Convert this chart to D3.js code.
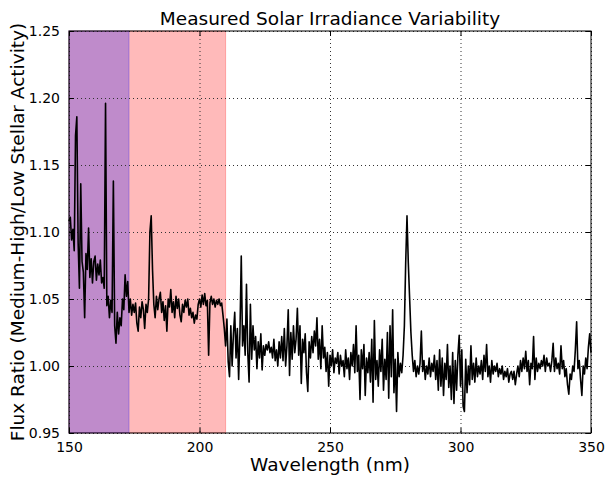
<!DOCTYPE html>
<html lang="en">
<head>
    <meta charset="UTF-8">
    <title>Measured Solar Irradiance Variability</title>
    <script src="https://d3js.org/d3.v7.min.js"></script>
    <style>
        body { margin: 0; background: white; }
        text { font-family: "DejaVu Sans", sans-serif; fill: black; }
    </style>
</head>
<body>
<svg id="chart" width="605" height="477"></svg>

<script>
    const wavelengthStart = 150;
    const wavelengthStep = 0.5;
    const fluxRatio = [
        1.108, 1.111, 1.094, 1.102, 1.086, 1.172, 1.186, 1.092, 1.058, 1.136,   // 150
        1.078, 1.070, 1.036, 1.084, 1.072, 1.103, 1.066, 1.080, 1.062, 1.078,   // 155
        1.082, 1.064, 1.076, 1.068, 1.079, 1.062, 1.066, 1.058, 1.196, 1.045,   // 160
        1.052, 1.036, 1.049, 1.040, 1.138, 1.030, 1.017, 1.040, 1.024, 1.036,   // 165
        1.030, 1.050, 1.042, 1.068, 1.052, 1.063, 1.040, 1.050, 1.038, 1.046,   // 170
        1.040, 1.047, 1.032, 1.026, 1.044, 1.036, 1.048, 1.042, 1.028, 1.046,   // 175
        1.040, 1.050, 1.100, 1.112, 1.072, 1.046, 1.036, 1.052, 1.042, 1.050,   // 180
        1.055, 1.040, 1.048, 1.034, 1.045, 1.026, 1.050, 1.044, 1.057, 1.040,   // 185
        1.048, 1.036, 1.052, 1.043, 1.050, 1.038, 1.033, 1.046, 1.040, 1.049,   // 190
        1.044, 1.050, 1.038, 1.043, 1.036, 1.040, 1.032, 1.038, 1.035, 1.046,   // 195
        1.050, 1.044, 1.053, 1.046, 1.054, 1.045, 1.049, 1.008, 1.047, 1.052,   // 200
        1.046, 1.050, 1.044, 1.049, 1.046, 1.050, 1.045, 1.047, 1.038, 1.028,   // 205
        1.015, 1.035, 1.003, 0.992, 1.030, 1.000, 1.024, 1.040, 1.006, 1.028,   // 210
        0.990, 1.025, 1.082, 1.015, 1.030, 1.008, 1.061, 1.010, 0.988, 1.046,   // 215
        1.005, 1.030, 1.012, 1.022, 0.998, 1.018, 1.006, 1.024, 0.997, 1.015,   // 220
        1.008, 1.016, 1.012, 1.018, 1.010, 1.014, 1.006, 1.020, 1.004, 1.012,   // 225
        1.000, 1.018, 1.006, 1.022, 1.004, 1.028, 1.000, 1.015, 1.042, 0.993,   // 230
        1.025, 1.005, 1.030, 1.010, 1.020, 1.043, 1.008, 1.030, 0.987, 1.020,   // 235
        1.010, 1.024, 0.995, 0.981, 1.018, 1.006, 1.022, 1.010, 1.026, 1.015,   // 240
        1.036, 1.005, 1.020, 0.998, 1.030, 1.006, 1.014, 0.996, 1.010, 0.985,   // 245
        1.008, 1.000, 1.012, 0.995, 1.006, 1.002, 1.010, 0.994, 1.008, 1.000,   // 250
        1.004, 0.992, 1.012, 0.998, 1.006, 0.990, 1.010, 1.000, 1.016, 0.995,   // 255
        1.030, 0.996, 1.008, 0.975, 1.012, 0.998, 1.016, 0.978, 1.006, 0.995,   // 260
        1.010, 0.988, 1.020, 0.973, 1.034, 0.990, 1.004, 0.985, 1.012, 0.996,   // 265
        1.020, 0.982, 1.005, 0.990, 1.025, 0.976, 1.030, 0.992, 1.042, 0.980,   // 270
        1.005, 0.966, 1.010, 0.992, 1.002, 0.995, 1.008, 1.030, 1.077, 1.112,   // 275
        1.077, 1.051, 1.025, 1.008, 0.996, 1.004, 0.992, 1.000, 0.994, 1.002,   // 280
        1.026, 0.996, 1.004, 0.990, 1.000, 0.994, 1.006, 0.992, 1.002, 0.996,   // 285
        1.008, 0.990, 1.004, 0.982, 1.012, 0.985, 1.006, 0.978, 1.002, 0.990,   // 290
        1.016, 0.984, 1.000, 0.975, 1.010, 0.972, 1.004, 0.982, 1.008, 1.023,   // 295
        0.985, 1.012, 0.970, 0.966, 1.005, 0.980, 1.000, 0.986, 1.015, 0.990,   // 300
        1.002, 0.988, 1.006, 0.992, 1.000, 0.994, 1.004, 0.990, 1.008, 0.996,   // 305
        1.016, 0.992, 1.000, 0.988, 1.004, 0.994, 1.000, 0.996, 1.002, 0.992,   // 310
        0.998, 0.994, 1.000, 0.990, 0.996, 0.992, 0.998, 0.988, 0.994, 0.996,   // 315
        0.990, 0.996, 0.986, 0.994, 1.000, 0.992, 1.004, 0.996, 1.006, 0.998,   // 320
        1.011, 0.996, 1.004, 0.986, 1.002, 0.998, 1.022, 0.990, 1.006, 0.996,   // 325
        1.002, 0.998, 1.004, 1.000, 1.008, 0.996, 1.006, 1.000, 1.002, 0.996,   // 330
        1.004, 1.017, 0.996, 1.006, 0.998, 1.002, 0.994, 1.015, 0.998, 1.004,   // 335
        0.992, 0.998, 0.986, 0.979, 0.994, 0.990, 1.000, 0.996, 1.012, 1.033,   // 340
        0.998, 1.004, 0.990, 0.978, 1.000, 0.994, 1.006, 0.998, 1.014, 1.024,   // 345
        1.010                                                                   // 350
    ];

    // Shaded bands (nm)
    const bandRed = [150, 210];
    const bandBlue = [150, 173];

    const xTicks = [150, 200, 250, 300, 350];
    const yTicks = [0.95, 1.00, 1.05, 1.10, 1.15, 1.20, 1.25];

    const margin = {top: 31, right: 14, bottom: 44, left: 69};
    const width = 605 - margin.left - margin.right;
    const height = 477 - margin.top - margin.bottom;

    const svg = d3.select("#chart");
    const g = svg.append("g").attr("transform", `translate(${margin.left},${margin.top})`);

    const x = d3.scaleLinear().domain([150, 350]).range([0, width]);
    const y = d3.scaleLinear().domain([0.95, 1.25]).range([height, 0]);

    // Shaded regions
    g.append("rect")
        .attr("x", x(bandRed[0])).attr("y", 0)
        .attr("width", x(bandRed[1]) - x(bandRed[0])).attr("height", height)
        .attr("fill", "red").attr("fill-opacity", 0.27)
        .attr("stroke", "red").attr("stroke-opacity", 0.27);
    g.append("rect")
        .attr("x", x(bandBlue[0])).attr("y", 0)
        .attr("width", x(bandBlue[1]) - x(bandBlue[0])).attr("height", height)
        .attr("fill", "blue").attr("fill-opacity", 0.25)
        .attr("stroke", "blue").attr("stroke-opacity", 0.25);

    // Dotted grid
    g.append("g").selectAll("line").data(xTicks).enter().append("line")
        .attr("x1", d => x(d) + 0.5).attr("x2", d => x(d) + 0.5)
        .attr("y1", 0).attr("y2", height)
        .attr("stroke", "#333").attr("stroke-width", 1).attr("stroke-dasharray", "1,3");
    g.append("g").selectAll("line").data(yTicks).enter().append("line")
        .attr("y1", d => Math.round(y(d)) + 0.5).attr("y2", d => Math.round(y(d)) + 0.5)
        .attr("x1", 0).attr("x2", width)
        .attr("stroke", "#333").attr("stroke-width", 1).attr("stroke-dasharray", "1,3");

    // Spectrum line
    const line = d3.line()
        .x((d, i) => x(wavelengthStart + i * wavelengthStep))
        .y(d => y(d));
    g.append("path")
        .datum(fluxRatio)
        .attr("fill", "none")
        .attr("stroke", "black")
        .attr("stroke-width", 1.6)
        .attr("stroke-linejoin", "round")
        .attr("d", line);

    // Axes with inward ticks on all four sides
    const fmtY = d3.format(".2f");
    g.append("g").attr("transform", `translate(0,${height})`)
        .call(d3.axisBottom(x).tickValues(xTicks).tickSizeInner(-5).tickSizeOuter(0).tickPadding(9))
        .call(a => a.select(".domain").remove());
    g.append("g")
        .call(d3.axisTop(x).tickValues(xTicks).tickSizeInner(-5).tickSizeOuter(0).tickFormat(""))
        .call(a => a.select(".domain").remove());
    g.append("g")
        .call(d3.axisLeft(y).tickValues(yTicks).tickFormat(fmtY).tickSizeInner(-5).tickSizeOuter(0).tickPadding(9))
        .call(a => a.select(".domain").remove());
    g.append("g").attr("transform", `translate(${width},0)`)
        .call(d3.axisRight(y).tickValues(yTicks).tickSizeInner(-5).tickSizeOuter(0).tickFormat(""))
        .call(a => a.select(".domain").remove());
    g.selectAll(".tick text").attr("font-size", 14).attr("font-family", "DejaVu Sans");

    // Frame
    g.append("rect")
        .attr("x", 0).attr("y", 0).attr("width", width).attr("height", height)
        .attr("fill", "none").attr("stroke", "black").attr("stroke-width", 1);

    // Title and labels
    svg.append("text")
        .attr("x", margin.left + width / 2).attr("y", 25)
        .attr("text-anchor", "middle").attr("font-size", 18.5)
        .text("Measured Solar Irradiance Variability");
    svg.append("text")
        .attr("x", margin.left + width / 2).attr("y", 471)
        .attr("text-anchor", "middle").attr("font-size", 18.5)
        .text("Wavelength (nm)");
    svg.append("text")
        .attr("transform", `translate(24,${margin.top + height / 2}) rotate(-90)`)
        .attr("text-anchor", "middle").attr("font-size", 18.5)
        .text("Flux Ratio (Medium-High/Low Stellar Activity)");
</script>
</body>
</html>
